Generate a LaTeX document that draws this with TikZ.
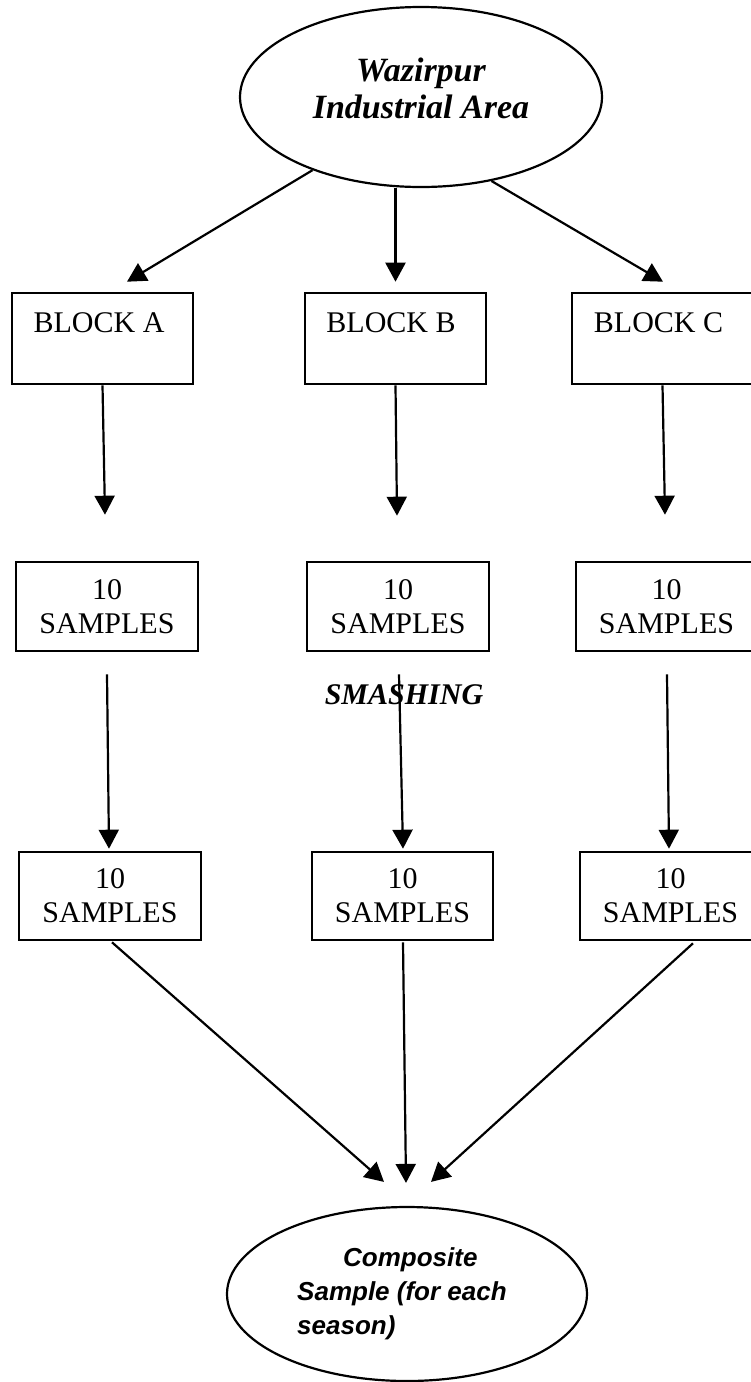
\documentclass[tikz,border=0pt]{standalone}
\usepackage{fontspec}
\setmainfont{Liberation Serif}
\newfontfamily\compfont{Liberation Sans}
\usetikzlibrary{arrows.meta,shapes.geometric,calc}
\begin{document}
\begin{tikzpicture}[x=1pt,y=-1pt,
  box/.style={draw, rectangle, line width=2.6pt, inner sep=0pt},
  oval/.style={draw, ellipse, line width=2.2pt, inner sep=0pt},
  conn/.style={line width=2.2pt, -{Triangle[length=19pt,width=20pt]}},
  btext/.style={font=\fontsize{30}{34}\selectfont, inner sep=0pt},
  stext/.style={font=\fontsize{30}{34}\selectfont, align=center, inner sep=0pt},
  ttext/.style={font=\fontsize{34}{37}\selectfont\bfseries\itshape, align=center, inner sep=0pt},
]
\useasboundingbox (0,0) rectangle (751,1382);

% top ellipse
\node[oval, minimum width=362pt, minimum height=180pt] (E) at (421,97) {};
\node[ttext] (Et) at (421,88) {Wazirpur\\Industrial Area};

% blocks
\node[box, minimum width=181pt, minimum height=91pt] (A) at (102.5,338.5) {};
\node[box, minimum width=181pt, minimum height=91pt] (B) at (395.5,338.5) {};
\node[box, minimum width=181pt, minimum height=91pt] (C) at (662.5,338.5) {};
\node[btext] (At) at (99,323) {BLOCK A};
\node[btext] (Bt) at (391,323) {BLOCK B};
\node[btext] (Ct) at (658.5,323) {BLOCK C};

% first samples row
\node[box, stext, minimum width=182pt, minimum height=89pt] (A1) at (107,606.5) {10\\SAMPLES};
\node[box, stext, minimum width=182pt, minimum height=89pt] (B1) at (398,606.5) {10\\SAMPLES};
\node[box, stext, minimum width=181pt, minimum height=89pt] (C1) at (666.5,606.5) {10\\SAMPLES};

% second samples row
\node[box, stext, minimum width=182pt, minimum height=88pt] (A2) at (110,896) {10\\SAMPLES};
\node[box, stext, minimum width=181pt, minimum height=88pt] (B2) at (402.5,896) {10\\SAMPLES};
\node[box, stext, minimum width=181pt, minimum height=88pt] (C2) at (670.5,896) {10\\SAMPLES};

% smashing label
\node[font=\fontsize{30}{34}\selectfont\bfseries\itshape, inner sep=0pt] (Sm) at (404,695) {SMASHING};

% composite ellipse
\node[oval, minimum width=360pt, minimum height=174pt] (F) at (407,1294) {};
\node[font=\fontsize{26}{34}\selectfont\compfont\bfseries\itshape, align=left, anchor=west, inner sep=0pt] (Ft) at (297,1294)
  {\hspace*{46pt}Composite\\Sample (for each\\season)};

% connectors: ellipse -> blocks
\draw[conn] (E.214.5) -- ($(A.north)+(24.5,-10)$);
\draw[conn] (B.north |- E.south) -- ($(B.north)+(0,-10)$);
\draw[conn] (E.310.3) -- ($(C.north)+(0.5,-10)$);

% blocks -> samples
\draw[conn] (A.south) -- ($(A1.north)+(-2,-46)$);
\draw[conn] (B.south) -- ($(B1.north)+(-1,-45)$);
\draw[conn] (C.south) -- ($(C1.north)+(-1.5,-46)$);

% samples -> samples
\draw[conn] ($(A1.south)+(0,22)$) -- ($(A2.north)+(-1,-2)$);
\draw[conn] ($(B1.south)+(1,22)$) -- ($(B2.north)+(0.5,-2)$);
\draw[conn] ($(C1.south)+(0.5,22)$) -- ($(C2.north)+(-1.5,-2)$);

% samples -> composite
\draw[conn] ($(A2.south)+(2,1)$) -- ($(F.north)+(-23,-24)$);
\draw[conn] ($(B2.south)+(0.5,1)$) -- ($(F.north)+(-1,-23)$);
\draw[conn] ($(C2.south)+(22.5,2)$) -- ($(F.north)+(24,-24)$);
\end{tikzpicture}
\end{document}
